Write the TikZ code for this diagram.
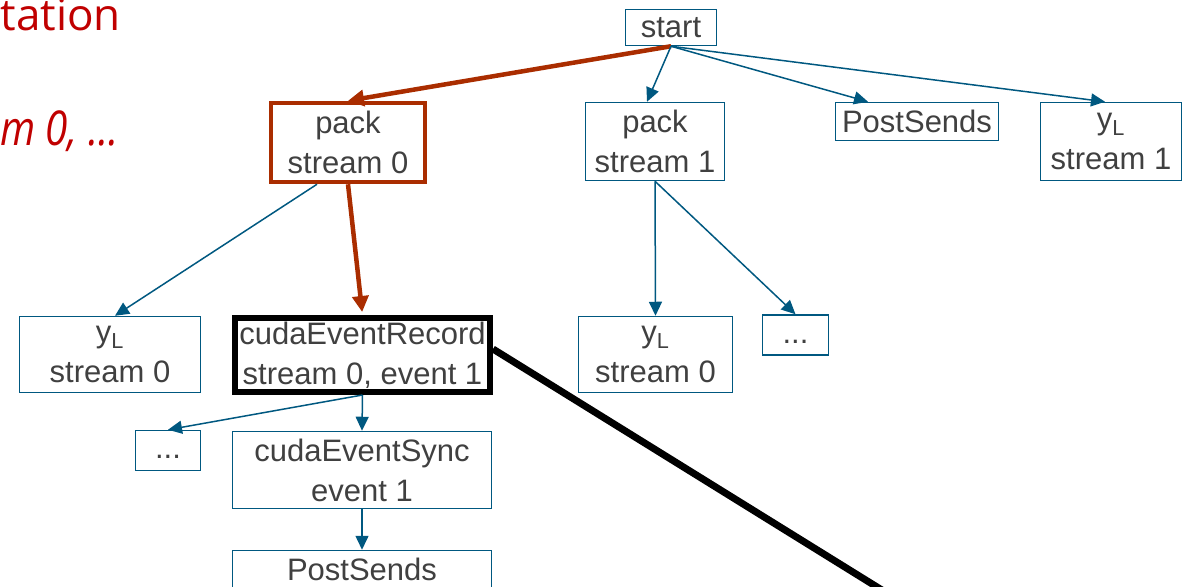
\documentclass[tikz,border=0pt]{standalone}
\usepackage{fontspec}
\setmainfont{Liberation Sans}
\newfontfamily\redfont{Open Sans}
\usetikzlibrary{arrows.meta,calc}
\definecolor{edgeblue}{RGB}{0,88,128}
\definecolor{txtgray}{RGB}{64,64,64}
\definecolor{hlred}{RGB}{170,45,0}
\definecolor{titlered}{RGB}{192,0,0}
\begin{document}
\begin{tikzpicture}[x=1pt,y=-1pt,
  box/.style={draw=edgeblue,line width=1.5pt,text=txtgray,inner sep=0pt,align=center,
    font=\fontsize{31}{40}\selectfont},
  arr/.style={draw=edgeblue,line width=1.5pt,-{Triangle[length=14pt,width=13pt]}},
  redarr/.style={draw=hlred,line width=4.5pt,-{Triangle[length=16pt,width=16pt]}},
  title/.style={anchor=base east,inner sep=0pt,text=titlered},
]
\useasboundingbox (0,0) rectangle (1182,586);

\node[title,font=\redfont\fontsize{44}{52}\selectfont] (t1) at (121,31) {tation};
\node[title,font=\redfont\itshape\fontsize{48}{56}\selectfont] (t2) at (119,145) {\scalebox{0.84}[1]{m 0, ...}};

\node[box,minimum width=91pt,minimum height=36pt] (start) at (671,27.5) {start};
\node[box,draw=hlred,line width=4.5pt,minimum width=154pt,minimum height=79pt] (pack0) at (348,142.5) {pack\\stream 0};
\node[box,minimum width=139pt,minimum height=78pt] (pack1) at (655,141.5) {pack\\stream 1};
\node[box,minimum width=163pt,minimum height=38pt] (ps1) at (917,121.5) {PostSends};
\node[box,minimum width=141pt,minimum height=78pt] (yl1) at (1111,141.5) {y\textsubscript{L}\\stream 1};
\node[box,minimum width=181pt,minimum height=76pt] (yl0) at (110,354.5) {y\textsubscript{L}\\stream 0};
\node[box,draw=black,line width=6pt,minimum width=255pt,minimum height=74pt] (cer) at (362.5,355) {cudaEventRecord\\stream 0, event 1};
\node[box,minimum width=65pt,minimum height=38pt] (dotsL) at (168,450.5) {\strut...};
\node[box,minimum width=259pt,minimum height=77pt] (ces) at (362,470) {cudaEventSync\\event 1};
\node[box,minimum width=259pt,minimum height=38pt] (ps2) at (362,569.5) {PostSends};
\node[box,minimum width=154pt,minimum height=76pt] (yl0m) at (655.5,354.5) {y\textsubscript{L}\\stream 0};
\node[box,minimum width=66pt,minimum height=37pt] (dotsR) at (795.5,335) {\strut...};

\draw[redarr] (start.south) -- (pack0.north);
\draw[arr] (start.south) -- ($(pack1.north)+(-8,0)$);
\draw[arr] (start.south) -- ($(ps1.north)+(-49,0)$);
\draw[arr] (start.south) -- ($(yl1.north)+(-6,0)$);
\draw[arr] ($(pack0.south)+(-31,0)$) -- ($(yl0.north)+(5,0)$);
\draw[redarr,shorten >=3pt] (pack0.south) -- (cer.north);
\draw[arr] (pack1.south) -- (yl0m.north);
\draw[arr] (pack1.south) -- (dotsR.north);
\draw[arr] (cer.south) -- (dotsL.north);
\draw[arr] (cer.south) -- (ces.north);
\draw[arr] (ces.south) -- (ps2.north);
\coordinate (lineend) at (898,600);
\draw[black,line width=7pt] ($(cer.east)+(0,-6)$) -- (lineend);
\end{tikzpicture}
\end{document}
